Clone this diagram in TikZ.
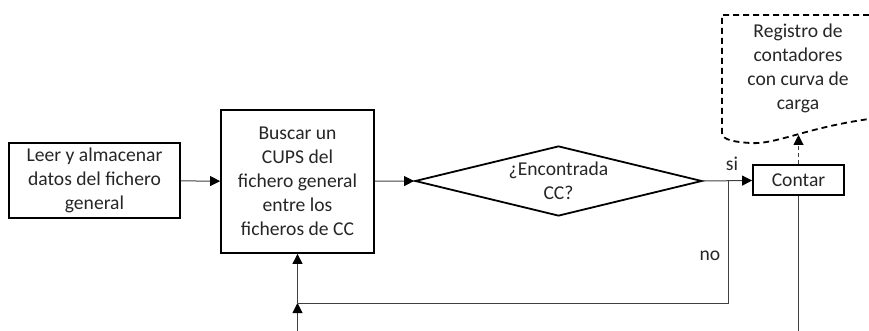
\documentclass[tikz,border=0pt]{standalone}
\usepackage{fontspec}
\setmainfont{Carlito}
\usetikzlibrary{shapes.geometric,arrows.meta}
\begin{document}
\begin{tikzpicture}[x=1pt,y=-1pt,
  every node/.style={font=\fontsize{19.6}{24}\selectfont, align=center, text=black!85},
  box/.style={draw=black, line width=1.8pt, inner sep=0pt},
  conn/.style={line width=1pt, draw=black!75},
  tip/.style={-{Triangle[length=10pt,width=10pt,fill=black,color=black]}}]
\useasboundingbox (0,0) rectangle (869,331);
\node[box, minimum width=171pt, minimum height=75pt] (leer) at (94.5,180.5) {Leer y almacenar\\datos del fichero\\general};
\node[box, minimum width=153pt, minimum height=143pt] (buscar) at (297.5,181.5) {Buscar un\\CUPS del\\fichero general\\entre los\\ficheros de CC};
\node[diamond, draw=black, line width=1.8pt, aspect=4.1, minimum width=287pt, minimum height=70pt, inner sep=0pt] (dec) at (558.5,181) {};
\node (dectext) at (dec.center) {¿Encontrada\\CC?};
\node[box, minimum width=91pt, minimum height=30pt] (contar) at (798.5,180) {Contar};
\node (doc) at (798,68) {Registro de\\contadores\\con curva de\\carga};
\node (si) at (732,164) {si};
\node (no) at (710,256) {no};
\coordinate (br) at (728,181);
\coordinate (lb) at (728,303);
\coordinate (lj) at (297.5,303);
\coordinate (bin) at (297.5,331);
\coordinate (cout) at (798.5,331);
\coordinate (docb) at (798.5,135);
\draw[line width=1.8pt, dash pattern=on 6pt off 4pt] (869,15) -- (722,15) -- (722,133)
  .. controls (722,140) and (735,142) .. (750,143)
  .. controls (775,145) and (805,128) .. (869,119);
\draw[conn,tip] (leer) -- (buscar);
\draw[conn,tip] (buscar) -- (dec.west);
\draw[conn,tip] (dec.east) -- (contar);
\draw[conn] (br) -- (lb) -- (lj);
\draw[conn,tip] (lj) -- (buscar.south);
\draw[conn,tip] (bin) -- (lj);
\draw[conn] (contar.south) -- (cout);
\draw[conn,dash pattern=on 4pt off 3pt,tip] (contar.north) -- (docb);
\end{tikzpicture}
\end{document}
